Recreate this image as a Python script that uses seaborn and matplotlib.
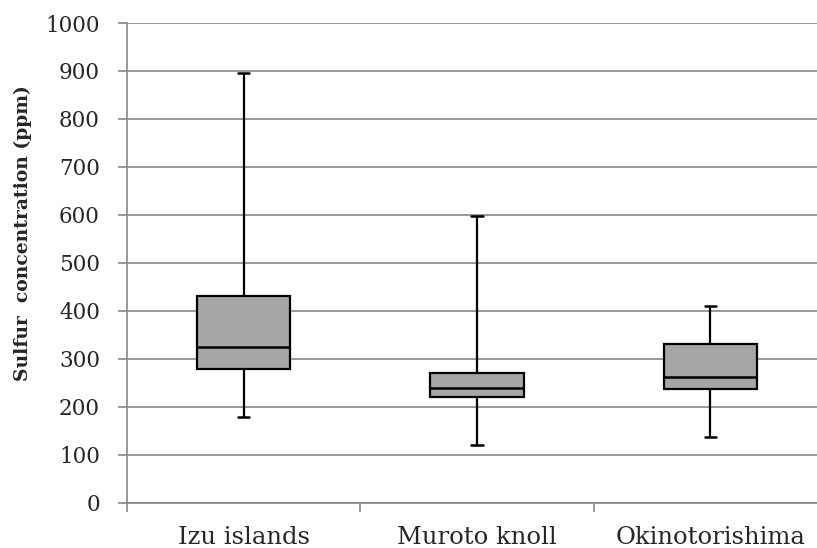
import numpy as np
import pandas as pd
import seaborn as sns
import matplotlib
matplotlib.use("Agg")
import matplotlib.pyplot as plt

# Five-number summaries (min, Q1, median, Q3, max)
categories = ["Izu islands", "Muroto knoll", "Okinotorishima"]
izu = [178, 278, 324, 431, 896]
muroto = [120, 220, 239, 270, 597]
okino = [136, 236, 262, 330, 410]
y_ticks = [0, 100, 200, 300, 400, 500, 600, 700, 800, 900, 1000]

df = pd.DataFrame({
    "site": [categories[0]] * len(izu) + [categories[1]] * len(muroto) + [categories[2]] * len(okino),
    "sulfur": izu + muroto + okino,
})

sns.set_theme(style="white")
plt.rcParams["font.family"] = ["DejaVu Serif"]

fig = plt.figure(figsize=(8.17, 5.48), dpi=100)
ax = fig.add_axes([127 / 817, 1 - 502.7 / 548, 700 / 817, 479.7 / 548])

grid_c = "#868686"
for t in y_ticks:
    ax.axhline(t, color=grid_c, lw=1.2, zorder=0)

sns.boxplot(data=df, x="site", y="sulfur", order=categories, whis=(0, 100),
            width=0.4, color="#A6A6A6", saturation=1, linecolor="black",
            linewidth=1.6, ax=ax, zorder=3,
            medianprops=dict(color="black", linewidth=1.8),
            capprops=dict(color="black", linewidth=1.8))

# narrow caps
for line in ax.lines:
    xd = np.asarray(line.get_xdata(), dtype=float)
    yd = np.asarray(line.get_ydata(), dtype=float)
    if len(xd) == 2 and yd[0] == yd[1] and abs(xd[1] - xd[0]) > 0.05 and abs(xd[1] - xd[0]) < 0.3:
        c = xd.mean()
        line.set_xdata([c - 0.024, c + 0.024])

ax.set_xlim(-0.5, 2.5)
ax.set_ylim(0, 1000)
ax.set_yticks(y_ticks)
ax.set_yticklabels([str(t) for t in y_ticks], fontsize=15.5)
ax.set_xticks(range(len(categories)))
ax.set_xticklabels(categories, fontsize=17.5)
ax.set_xticks([-0.5, 0.5, 1.5, 2.5], minor=True)
ax.tick_params(axis="x", which="major", length=0, pad=17)
ax.tick_params(axis="x", which="minor", length=6.5, width=1.2, color=grid_c, direction="out", bottom=True)
ax.tick_params(axis="y", which="major", length=6.5, width=1.2, color=grid_c, direction="out", left=True, pad=13)

for s in ["top", "right"]:
    ax.spines[s].set_visible(False)
for s in ["left", "bottom"]:
    ax.spines[s].set_color(grid_c)
    ax.spines[s].set_linewidth(1.2)

ax.set_xlabel("")
ax.set_ylabel("Sulfur  concentration (ppm)", fontsize=13.5, fontweight="bold")
ax.yaxis.set_label_coords(-0.135, 0.5625)

fig.savefig("out.png", dpi=100)
